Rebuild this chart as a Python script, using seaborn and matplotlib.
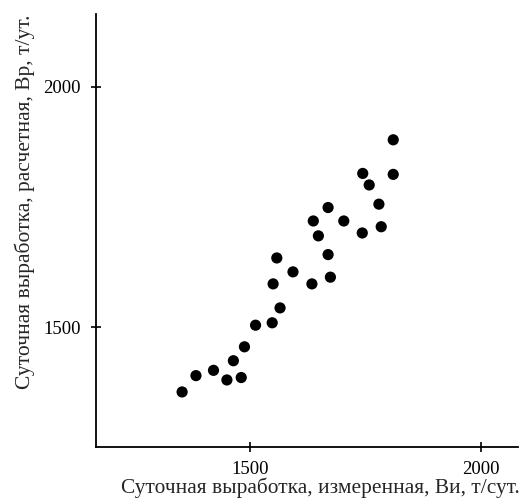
import matplotlib
matplotlib.use("Agg")

import matplotlib.pyplot as plt
import pandas as pd
import seaborn as sns

# ── Data ──────────────────────────────────────────────────────────────────────
measured = [1810, 1744, 1810, 1758, 1779, 1669, 1637, 1703, 1743, 1784,
            1648, 1669, 1558, 1593, 1674, 1550, 1634, 1565, 1512, 1548,
            1488, 1464, 1421, 1383, 1450, 1481, 1353]
computed = [1890, 1820, 1818, 1796, 1756, 1749, 1721, 1721, 1696, 1709,
            1690, 1651, 1644, 1615, 1604, 1590, 1590, 1540, 1504, 1509,
            1459, 1430, 1410, 1399, 1390, 1395, 1365]
ticks = [1500, 2000]

df = pd.DataFrame({"measured": measured, "computed": computed})

sns.set_style("ticks")
plt.rcParams["font.family"] = ["Liberation Serif", "DejaVu Serif"]

fig = plt.figure(figsize=(5.19, 4.99), dpi=100)
ax = fig.add_axes([0.1844, 0.1048, 0.8136, 0.8672])

sns.scatterplot(data=df, x="measured", y="computed", ax=ax,
                color="black", s=65, edgecolor="none", linewidth=0)

ax.set_xlim(1166, 2080)
ax.set_ylim(1251, 2152)
ax.set_xticks(ticks)
ax.set_yticks(ticks)
ax.tick_params(direction="inout", length=7, width=1.2, labelsize=13.5,
               colors="black", pad=7)

for side in ("top", "right"):
    ax.spines[side].set_visible(False)
for side in ("left", "bottom"):
    ax.spines[side].set_linewidth(1.3)
    ax.spines[side].set_color("black")

ax.set_xlabel("Суточная выработка, измеренная, Ви, т/сут.", fontsize=15.4)
ax.set_ylabel("Суточная выработка, расчетная, Вр, т/ут.", fontsize=15.5)
ax.xaxis.label.set_va("center")
ax.yaxis.label.set_va("center")
ax.xaxis.set_label_coords(0.531, -0.096)
ax.yaxis.set_label_coords(-0.168, 0.5655)

fig.savefig("out.png", dpi=100)
